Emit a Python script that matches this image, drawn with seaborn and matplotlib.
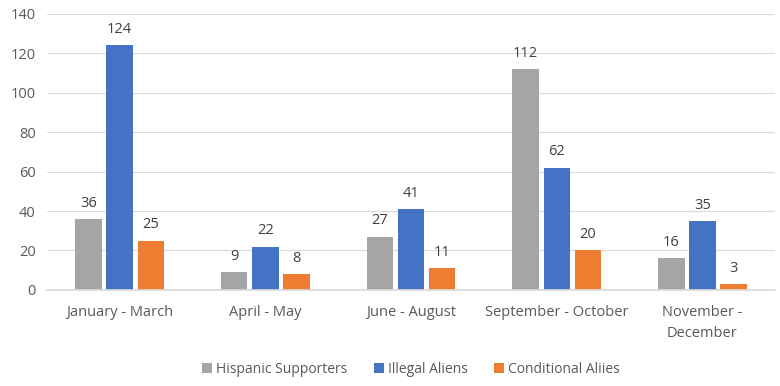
import seaborn as sns
import matplotlib.pyplot as plt
import pandas as pd

periods = ["January - March", "April - May", "June - August",
           "September - October", "November -\nDecember"]
series = ["Hispanic Supporters", "Illegal Aliens", "Conditional Aliies"]
hispanic = [36, 9, 27, 112, 16]
illegal = [124, 22, 41, 62, 35]
conditional = [25, 8, 11, 20, 3]
colors = ["#A5A5A5", "#4472C4", "#ED7D31"]

df = pd.DataFrame({
    "period": periods * 3,
    "group": [s for s in series for _ in periods],
    "count": hispanic + illegal + conditional,
})

sns.set_theme(style="white")
plt.rcParams["font.family"] = ["Open Sans", "DejaVu Sans"]

fig = plt.figure(figsize=(7.8, 3.86), dpi=100)
ax = fig.add_axes([0.06, 0.249, 0.934, 0.715])

sns.barplot(data=df, x="period", y="count", hue="group", order=periods,
            hue_order=series, palette=colors, width=0.64, gap=0.15,
            saturation=1, linewidth=0, ax=ax, legend=True)

for cont in ax.containers:
    ax.bar_label(cont, padding=6, fontsize=10.5, color="#404040")

ax.set_ylim(0, 140)
ax.set_yticks(range(0, 141, 20))
ax.grid(axis="y", color="#D9D9D9", linewidth=0.8)
ax.set_axisbelow(True)
for s in ["top", "right", "left"]:
    ax.spines[s].set_visible(False)
ax.spines["bottom"].set_color("#D9D9D9")
ax.tick_params(axis="both", length=0, labelsize=10.5, colors="#595959", pad=8)
ax.tick_params(axis="x", pad=11)
for lbl in ax.get_xticklabels():
    lbl.set_linespacing(1.55)
ax.set_xlabel("")
ax.set_ylabel("")

ax.legend(loc="upper center", bbox_to_anchor=(0.5, -0.215), ncol=3, frameon=False,
          fontsize=10, labelcolor="#595959", handlelength=0.7, handleheight=0.7,
          handletextpad=0.3, columnspacing=1.9)

fig.savefig("out.png", dpi=100)
